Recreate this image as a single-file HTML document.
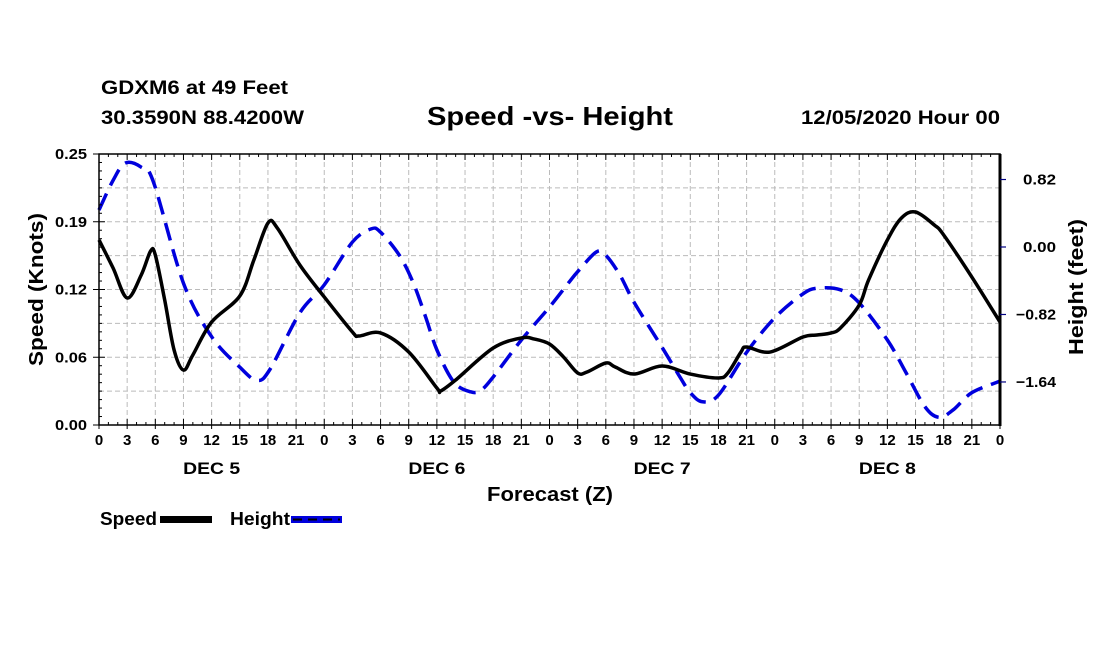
<!DOCTYPE html>
<html><head><meta charset="utf-8"><style>
body{margin:0;background:#fff;width:1100px;height:650px;overflow:hidden;font-family:"Liberation Sans",sans-serif}
svg text{font-family:"Liberation Sans",sans-serif;font-weight:bold}
</style></head><body>
<svg id="chart" width="1100" height="650" viewBox="0 0 1100 650">
<text x="101" y="94" font-size="19" textLength="187" lengthAdjust="spacingAndGlyphs">GDXM6 at 49 Feet</text>
<text x="101" y="124" font-size="19" textLength="203" lengthAdjust="spacingAndGlyphs">30.3590N 88.4200W</text>
<text x="427" y="125" font-size="26" textLength="246" lengthAdjust="spacingAndGlyphs">Speed -vs- Height</text>
<text x="801" y="124" font-size="19" textLength="199" lengthAdjust="spacingAndGlyphs">12/05/2020 Hour 00</text>
<g id="grid"></g>
<g id="series"></g>
<g id="axes"></g>
<text transform="translate(43,366) rotate(-90)" font-size="20" textLength="153" lengthAdjust="spacingAndGlyphs">Speed (Knots)</text>
<text transform="translate(1083,355) rotate(-90)" font-size="20" textLength="136" lengthAdjust="spacingAndGlyphs">Height (feet)</text>
<text x="487" y="501" font-size="20" textLength="126" lengthAdjust="spacingAndGlyphs">Forecast (Z)</text>
<g>
<text x="100" y="525" font-size="18" textLength="57" lengthAdjust="spacingAndGlyphs">Speed</text>
<rect x="160" y="516" width="52" height="7" fill="#000"/>
<text x="230" y="525" font-size="18" textLength="60" lengthAdjust="spacingAndGlyphs">Height</text>
<rect x="291" y="516" width="51" height="7" fill="#0000dd"/>
<line x1="293" y1="519.5" x2="340" y2="519.5" stroke="#000" stroke-width="2" stroke-dasharray="9,6"/>
</g>
</svg>
<script>
const speedHours=[0,1.5,3,4.5,5.5,6,7,8,9,10,12,15,16.5,18,19,21.4,24,27,27.7,30,33,36,36.4,38,42,45,46.4,48,49.5,51,52,54,55,57,60,63,66,67,68.4,69,71.5,75,76.5,78,79,81,82,84,85.5,87,89,90,93,96];
const speedValues=[0.1707,0.1448,0.1172,0.1384,0.1605,0.1568,0.1153,0.0692,0.0507,0.0646,0.0950,0.1190,0.1522,0.1863,0.1817,0.1476,0.1181,0.0858,0.0821,0.0849,0.0673,0.0341,0.0314,0.0415,0.0710,0.0803,0.0793,0.0747,0.0627,0.0480,0.0489,0.0572,0.0535,0.0470,0.0544,0.0470,0.0434,0.0480,0.0673,0.0720,0.0673,0.0812,0.0830,0.0849,0.0895,0.1107,0.1338,0.1707,0.1910,0.1965,0.1845,0.1753,0.1365,0.0950];
const heightHours=[0,1.5,2.8,4.5,5.8,9,12,15,16.8,18.2,21.4,24,27,29,30,32,33.5,34.8,36,37.8,39.6,40.7,42,45,48,50,51,53,54,55.5,57,60,61.9,63,64.3,66,69,72,75,76.6,79,81,84,86,88,89.5,91,93,96];
const heightValues=[0.45,0.81,1.02,0.97,0.79,-0.44,-1.09,-1.46,-1.62,-1.49,-0.80,-0.46,0.06,0.22,0.18,-0.10,-0.44,-0.85,-1.25,-1.64,-1.76,-1.74,-1.58,-1.13,-0.73,-0.44,-0.30,-0.06,-0.10,-0.34,-0.67,-1.22,-1.58,-1.77,-1.88,-1.80,-1.28,-0.86,-0.57,-0.50,-0.52,-0.68,-1.13,-1.53,-1.94,-2.07,-1.98,-1.77,-1.63];
const xTickLabels=["0","3","6","9","12","15","18","21"];
const dayLabels=["DEC 5","DEC 6","DEC 7","DEC 8"];
const speedTicks=[0,0.0625,0.125,0.1875,0.25];
const speedTickLabels=["0.00","0.06","0.12","0.19","0.25"];
const heightTicks=[0.82,0,-0.82,-1.64];
const heightTickLabels=["0.82","0.00","\u22120.82","\u22121.64"];

const L=99,R=1000,T=154,B=425;
const HMAX=96,SMAX=0.25,HTOP=(247-154)/82.3,HBOT=(247-425)/82.3;
const xS=h=>L+h/HMAX*(R-L);
const yS=v=>B-v/SMAX*(B-T);
const yH=v=>B-(v-HBOT)/(HTOP-HBOT)*(B-T);
const NS="http://www.w3.org/2000/svg";
function mk(tag,attrs,parent){const e=document.createElementNS(NS,tag);for(const k in attrs)e.setAttribute(k,attrs[k]);parent.appendChild(e);return e;}
const grid=document.getElementById('grid'),axes=document.getElementById('axes'),series=document.getElementById('series');
for(let h=3;h<HMAX;h+=3){const l=mk('line',{x1:xS(h),x2:xS(h),y1:T,y2:B,stroke:'#bbb','stroke-width':1,'stroke-dasharray':'5,3'},grid);

}
for(let i=1;i<8;i++){const v=SMAX*i/8;const l=mk('line',{x1:L,x2:R,y1:yS(v),y2:yS(v),stroke:'#bbb','stroke-width':1,'stroke-dasharray':'5,3'},grid);

}
function path(xs,ys,fx,fy){const p=xs.map((h,i)=>[fx(h),fy(ys[i])]);let d='M'+p[0][0]+','+p[0][1];
for(let i=0;i<p.length-1;i++){const p0=p[i-1]||p[i],p1=p[i],p2=p[i+1],p3=p[i+2]||p2;
d+=' C'+(p1[0]+(p2[0]-p0[0])/6)+','+(p1[1]+(p2[1]-p0[1])/6)+' '+(p2[0]-(p3[0]-p1[0])/6)+','+(p2[1]-(p3[1]-p1[1])/6)+' '+p2[0]+','+p2[1];}return d;}
const hp=mk('path',{d:path(heightHours,heightValues,xS,yH),fill:'none',stroke:'#0000dd','stroke-width':3.5,'stroke-dasharray':'18,9'},series);


const sp=mk('path',{d:path(speedHours,speedValues,xS,yS),fill:'none',stroke:'#000','stroke-width':3.5},series);


const fr=mk('rect',{x:L,y:T,width:R-L,height:B-T,fill:'none',stroke:'#000','stroke-width':1.5},axes);


mk('line',{x1:R,x2:R,y1:T,y2:B+1,stroke:'#000','stroke-width':3},axes);
for(let h=0;h<=HMAX;h++){const major=h%3===0;
mk('line',{x1:xS(h),x2:xS(h),y1:B,y2:B-(major?6:3),stroke:'#000','stroke-width':1},axes);
mk('line',{x1:xS(h),x2:xS(h),y1:T,y2:T+(major?6:3),stroke:'#000','stroke-width':1},axes);
if(major){mk('line',{x1:xS(h),x2:xS(h),y1:B,y2:B+4,stroke:'#000','stroke-width':1},axes);
const t=mk('text',{x:xS(h),y:B+20,'font-size':15,'text-anchor':'middle'},axes);t.textContent=h===HMAX?'0':xTickLabels[(h/3)%8];

}}
dayLabels.forEach((d,i)=>{const t=mk('text',{x:xS(12+24*i),y:B+49,'font-size':17,'text-anchor':'middle',textLength:57,lengthAdjust:'spacingAndGlyphs'},axes);t.textContent=d;

});
for(let i=0;i<=32;i++){const v=SMAX*i/32,y=yS(v),maj=i%8===0;mk('line',{x1:L,x2:L+(maj?6:3),y1:y,y2:y,stroke:'#000'},axes);mk('line',{x1:L,x2:L-(maj?6:0),y1:y,y2:y,stroke:'#000'},axes);}
speedTicks.forEach((v,i)=>{const t=mk('text',{x:L-12,y:yS(v)+5,'font-size':15,'text-anchor':'end',textLength:32,lengthAdjust:'spacingAndGlyphs'},axes);t.textContent=speedTickLabels[i];

});
heightTicks.forEach((v,i)=>{mk('line',{x1:R,x2:R+6,y1:yH(v),y2:yH(v),stroke:'#000080','stroke-width':1.2},axes);
const t=mk('text',{x:1056,y:yH(v)+5,'font-size':15,'text-anchor':'end',textLength:(heightTickLabels[i].length>4?40:33),lengthAdjust:'spacingAndGlyphs'},axes);t.textContent=heightTickLabels[i];

});
</script>
</body></html>
